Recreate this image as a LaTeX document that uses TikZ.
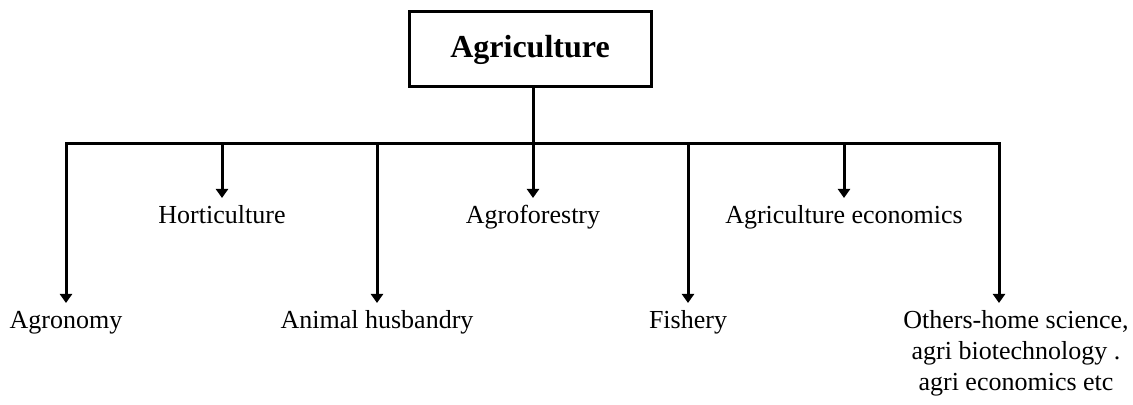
\documentclass[tikz,border=0pt]{standalone}
\usepackage{fontspec}
\setmainfont{Liberation Serif}
\usetikzlibrary{arrows.meta,positioning}

\begin{document}
\begin{tikzpicture}[x=0.5pt,y=-0.5pt,
	branch/.style={font=\fontsize{13}{15.5}\selectfont, inner sep=0pt, anchor=north, text height=8.9pt},
	link/.style={line width=1.5pt, -{Triangle[width=6pt,length=4.5pt]}}]
		\useasboundingbox (0,0) rectangle (1133,405);
		% top box
		\node[draw, line width=1.5pt, minimum width=121pt, minimum height=37.5pt,
			font=\bfseries\fontsize{16}{19}\selectfont] (agri) at (530,49.5) {Agriculture};
		\coordinate (hub) at (533,144);
		\coordinate (busL) at (66,144);
		\coordinate (busR) at (999,144);
		% upper row
		\node[branch] (horti) at (222,205) {Horticulture};
		\node[branch] (agroforest) at (533,205) {Agroforestry};
		\node[branch] (agrieco) at (844,205) {Agriculture economics};
		% lower row
		\node[branch] (agronomy) at (66,310) {Agronomy};
		\node[branch] (animal) at (377,310) {Animal husbandry};
		\node[branch] (fishery) at (688,310) {Fishery};
		\node[branch, text height=, align=center] (others) at (1016,310) {Others-home science,\\ agri biotechnology .\\ agri economics etc};
		% connectors
		\draw[line width=1.5pt] (agri.south -| hub) -- (hub);
		\draw[link] (hub) -- (busL) -- ([yshift=3.5pt]agronomy.north);
		\draw[link] (hub) -- (busR) -- ([yshift=3.5pt]busR |- others.north);
		\draw[link] (hub) -- ([yshift=3.5pt]agroforest.north);
		\draw[link] (horti.north |- hub) -- ([yshift=3.5pt]horti.north);
		\draw[link] (agrieco.north |- hub) -- ([yshift=3.5pt]agrieco.north);
		\draw[link] (animal.north |- hub) -- ([yshift=3.5pt]animal.north);
		\draw[link] (fishery.north |- hub) -- ([yshift=3.5pt]fishery.north);
	\end{tikzpicture}
\end{document}
